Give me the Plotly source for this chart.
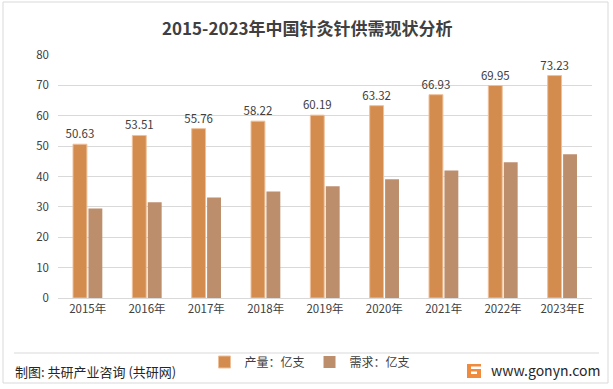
import plotly.graph_objects as go

categories = ["2015年", "2016年", "2017年", "2018年", "2019年", "2020年", "2021年", "2022年", "2023年E"]
production = [50.63, 53.51, 55.76, 58.22, 60.19, 63.32, 66.93, 69.95, 73.23]
demand = [29.5, 31.5, 33.1, 35.1, 36.8, 39.1, 42.0, 44.7, 47.3]
y_ticks = [0, 10, 20, 30, 40, 50, 60, 70, 80]

W, H = 613, 389
L, R, T, B = 58, 21, 55, 91
PW, PH = W - L - R, H - T - B

def px(x):
    return (x - L) / PW

def py(y):
    return (H - B - y) / PH

FONT = "Noto Sans CJK SC, Microsoft YaHei, sans-serif"

fig = go.Figure()
fig.add_trace(go.Bar(
    x=categories, y=production, name="产量：亿支",
    marker=dict(color="#D38B4E", line=dict(color="#EEC09A", width=1)),
    text=[f"{v:.2f}" for v in production], textposition="outside",
    textfont=dict(size=11.5, color="#404040", family=FONT),
    constraintext="none", cliponaxis=False,
))
fig.add_trace(go.Bar(
    x=categories, y=demand, name="需求：亿支",
    marker=dict(color="#BC8E6C", line=dict(width=0)),
))

shapes = [
    dict(type="rect", xref="paper", yref="paper", x0=px(3), x1=px(608), y0=py(383), y1=py(2),
         line=dict(color="#D9D9D9", width=1), fillcolor="rgba(0,0,0,0)", layer="below"),
    dict(type="line", xref="paper", yref="paper", x0=px(14), x1=px(599), y0=py(353), y1=py(353),
         line=dict(color="#D9D9D9", width=1)),
    # logo
    dict(type="rect", xref="paper", yref="paper", x0=px(467), x1=px(481), y0=py(378), y1=py(364),
         line=dict(width=0), fillcolor="#F08A3C"),
    dict(type="rect", xref="paper", yref="paper", x0=px(471), x1=px(481), y0=py(369), y1=py(366.5),
         line=dict(width=0), fillcolor="#FFFFFF"),
    dict(type="rect", xref="paper", yref="paper", x0=px(471), x1=px(477), y0=py(374), y1=py(371.5),
         line=dict(width=0), fillcolor="#FFFFFF"),
]

annotations = [
    dict(text="<b>2015-2023年中国针灸针供需现状分析</b>", xref="paper", yref="paper",
         x=px(307), y=py(27), xanchor="center", yanchor="middle", showarrow=False,
         font=dict(size=17, color="#404040", family=FONT)),
    dict(text="制图: 共研产业咨询 (共研网)", xref="paper", yref="paper",
         x=px(13), y=py(371), xanchor="left", yanchor="middle", showarrow=False,
         font=dict(size=13, color="#262626", family=FONT)),
    dict(text="www.gonyn.com", xref="paper", yref="paper",
         x=px(489), y=py(370), xanchor="left", yanchor="middle", showarrow=False,
         font=dict(size=14, color="#262626", family=FONT)),
]

fig.update_layout(
    width=W, height=H,
    margin=dict(l=L, r=R, t=T, b=B, autoexpand=False),
    paper_bgcolor="#FFFFFF", plot_bgcolor="#FFFFFF",
    barmode="group", bargap=0.48, bargroupgap=0.1,
    showlegend=True,
    legend=dict(orientation="h", x=px(310), y=py(362), xanchor="center", yanchor="middle",
                font=dict(size=12, color="#404040", family=FONT),
                bgcolor="rgba(0,0,0,0)", itemwidth=30),
    xaxis=dict(showgrid=False, showline=True, linecolor="#D9D9D9", linewidth=1,
               ticks="", tickfont=dict(size=11.5, color="#404040", family=FONT), fixedrange=True),
    yaxis=dict(range=[0, 80], tickvals=y_ticks, showgrid=True, gridcolor="#D9D9D9", gridwidth=1,
               zeroline=False, showline=False, ticks="", ticklabelstandoff=8,
               tickfont=dict(size=11.5, color="#404040", family=FONT), fixedrange=True),
    shapes=shapes, annotations=annotations,
    font=dict(family=FONT),
)

fig.write_html("out.html", config={"displayModeBar": False},
               post_script="document.body.style.margin='0px';document.body.style.overflow='hidden';")
